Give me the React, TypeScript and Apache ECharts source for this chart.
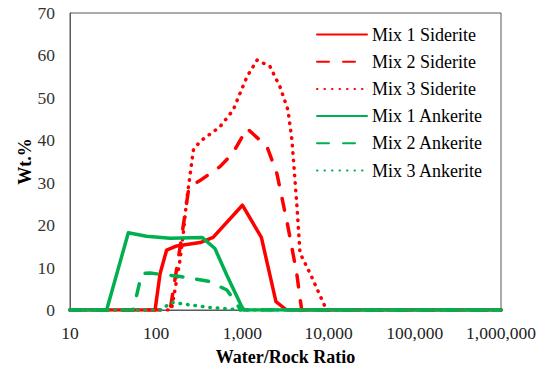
import React, { useEffect, useRef } from "react";
import * as echarts from "echarts";

const seriesNames = [
  "Mix 1 Siderite",
  "Mix 2 Siderite",
  "Mix 3 Siderite",
  "Mix 1 Ankerite",
  "Mix 2 Ankerite",
  "Mix 3 Ankerite",
];

const mix1Siderite: [number, number][] = [
  [10, 0], [97, 0], [111, 8.6], [132, 14.1], [173, 15.1], [323, 15.9], [457, 17.1],
  [1000, 24.7], [1660, 17.1], [2450, 2], [3250, 0], [1000000, 0],
];
const mix2Siderite: [number, number][] = [
  [10, 0], [145, 0], [190, 15], [240, 29], [322, 30.5], [550, 33.8], [777, 37],
  [1130, 42.8], [1930, 38.5], [2510, 32.2], [3380, 19.6], [4270, 8.6], [4870, 0], [1000000, 0],
];
const mix3Siderite: [number, number][] = [
  [10, 0], [150, 0], [165, 4.7], [189, 11.8], [206, 18], [226, 26], [270, 37.7],
  [322, 39.7], [550, 43.2], [780, 47.1], [1130, 55], [1480, 58.9], [2090, 57.4],
  [2730, 52.6], [3380, 47.1], [3760, 40], [4300, 24.3], [4660, 13.4], [6080, 8.7],
  [9080, 0.8], [9500, 0], [1000000, 0],
];
const mix1Ankerite: [number, number][] = [
  [10, 0], [26.6, 0], [47.5, 18.2], [77, 17.4], [145, 16.9], [340, 17.1], [480, 14.5],
  [660, 8.2], [980, 0.8], [1050, 0], [1000000, 0],
];
const mix2Ankerite: [number, number][] = [
  [10, 0], [54, 0], [68, 8.6], [85, 8.7], [190, 7.9], [420, 6.7], [660, 4.7],
  [860, 1.5], [950, 0], [1000000, 0],
];
const mix3Ankerite: [number, number][] = [
  [10, 0], [112, 0], [151, 1.8], [246, 1.2], [420, 0.6], [860, 0.1], [950, 0], [1000000, 0],
];

const seriesData = [mix1Siderite, mix2Siderite, mix3Siderite, mix1Ankerite, mix2Ankerite, mix3Ankerite];

const RED = "#FF0000";
const GREEN = "#00B050";
const FONT = "Liberation Serif";

const seriesColors = [RED, RED, RED, GREEN, GREEN, GREEN];
const dashTypes: any[] = ["solid", [12, 14], [0.5, 7], "solid", [12, 14], [0.5, 7]];

export default function App() {
  const ref = useRef<HTMLDivElement>(null);
  useEffect(() => {
    if (!ref.current) return;
    const chart = echarts.init(ref.current, undefined, { renderer: "svg" });
    chart.setOption({
      animation: false,
      backgroundColor: "#ffffff",
      grid: {
        left: 70,
        right: 39,
        top: 13,
        bottom: 56,
        containLabel: false,
        outerBoundsMode: "none",
        show: true,
        borderColor: "#595959",
        borderWidth: 1,
      },
      legend: {
        orient: "vertical",
        left: 316,
        top: 25.5,
        padding: 0,
        itemWidth: 50,
        itemHeight: 14,
        itemGap: 9.2,
        itemStyle: { color: "transparent", opacity: 0, borderWidth: 0 },
        textStyle: { fontFamily: FONT, fontSize: 18, color: "#000", lineHeight: 18 },
        data: seriesNames,
      },
      xAxis: {
        type: "log",
        logBase: 10,
        min: 10,
        max: 1000000,
        name: "Water/Rock Ratio",
        nameLocation: "middle",
        nameGap: 38,
        nameMoveOverlap: false,
        nameTextStyle: {
          fontFamily: FONT,
          fontSize: 18,
          lineHeight: 18,
          fontWeight: "bold",
          color: "#000",
        },
        axisLine: { show: true, lineStyle: { color: "#595959" } },
        axisTick: { show: false },
        splitLine: { show: false },
        minorTick: { show: false },
        axisLabel: {
          fontFamily: FONT,
          fontSize: 17.5,
          color: "#222",
          margin: 14,
          formatter: (v: number) => Math.round(v).toLocaleString("en-US"),
        },
      },
      yAxis: {
        type: "value",
        min: 0,
        max: 70,
        interval: 10,
        name: "Wt.%",
        nameLocation: "middle",
        nameGap: 36,
        nameMoveOverlap: false,
        nameRotate: 90,
        nameTextStyle: { fontFamily: FONT, fontSize: 18, fontWeight: "bold", color: "#000" },
        axisLine: { show: true, lineStyle: { color: "#595959" } },
        axisTick: { show: false },
        splitLine: { show: false },
        axisLabel: { fontFamily: FONT, fontSize: 17.5, color: "#333", margin: 15 },
      },
      series: seriesNames.map((name, i) => ({
        name,
        type: "line",
        data: seriesData[i],
        symbol: "none",
        color: seriesColors[i],
        lineStyle: {
          color: seriesColors[i],
          width: 3.5,
          type: dashTypes[i],
          cap: "round",
          join: "round",
        },
      })),
    });
    return () => chart.dispose();
  }, []);
  return (
    <div
      ref={ref}
      style={{ position: "fixed", left: 0, top: 0, width: 540, height: 366 }}
    />
  );
}
